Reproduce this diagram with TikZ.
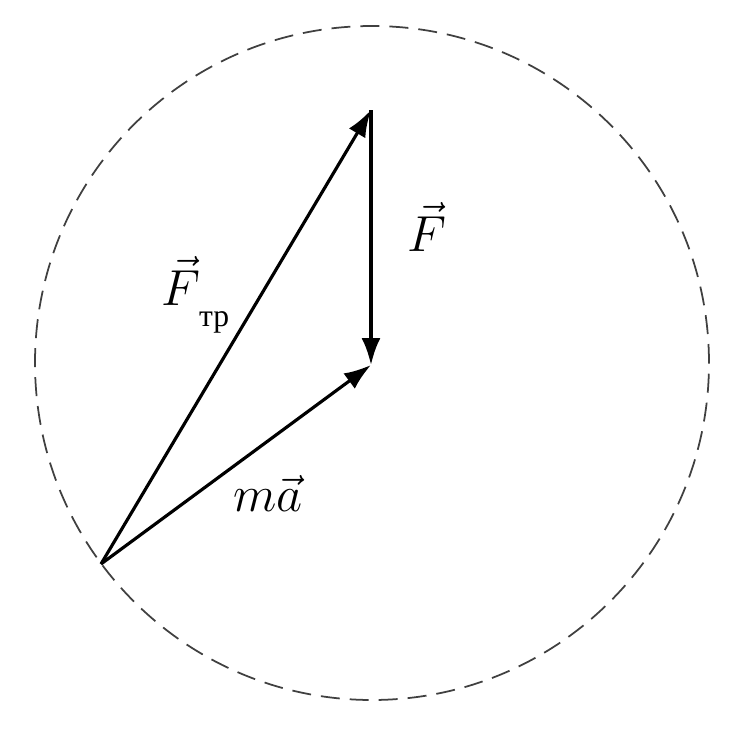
\documentclass[tikz,border=0pt]{standalone}
\usepackage{fontspec}
\usepackage{amsmath}
\usepackage{tikz}
\usetikzlibrary{arrows.meta, positioning}
\newfontfamily\cyrfont{Liberation Serif}

\begin{document}
\begin{tikzpicture}[
        >={Latex[length=2.7mm,width=1.9mm]},
        every node/.style={
            font=\fontsize{14pt}{16pt}\selectfont,
            inner sep=1pt
        },
        vetor/.style={
            ->,
            line width=0.9pt
        },
        circulo/.style={
            draw=black!75,
            dash pattern=on 1.9mm off 1.0mm,
            line width=0.5pt
        }
    ]

    \useasboundingbox (0,0) rectangle (7.30,7.35);

    \coordinate (centro) at (3.72,3.72);
    \coordinate (origem) at (1.01,1.71);
    \coordinate (topo) at (3.71,6.25);
    \coordinate (fim) at (3.71,3.70);

    \draw[circulo] (centro) circle (3.37);

    \draw[vetor] (origem) -- (topo);
    \draw[vetor] (topo) -- (fim);
    \draw[vetor] (origem) -- (fim);

    \node (rotuloF) at (4.27,5.08) {$\vec F$};
    \node (rotuloFtr) at (1.96,4.40)
        {$\vec F_{\,\raisebox{-4pt}{\cyrfont\small тр}}$};
    \node (rotuloma) at (2.68,2.42) {$m\vec a$};

\end{tikzpicture}
\end{document}
